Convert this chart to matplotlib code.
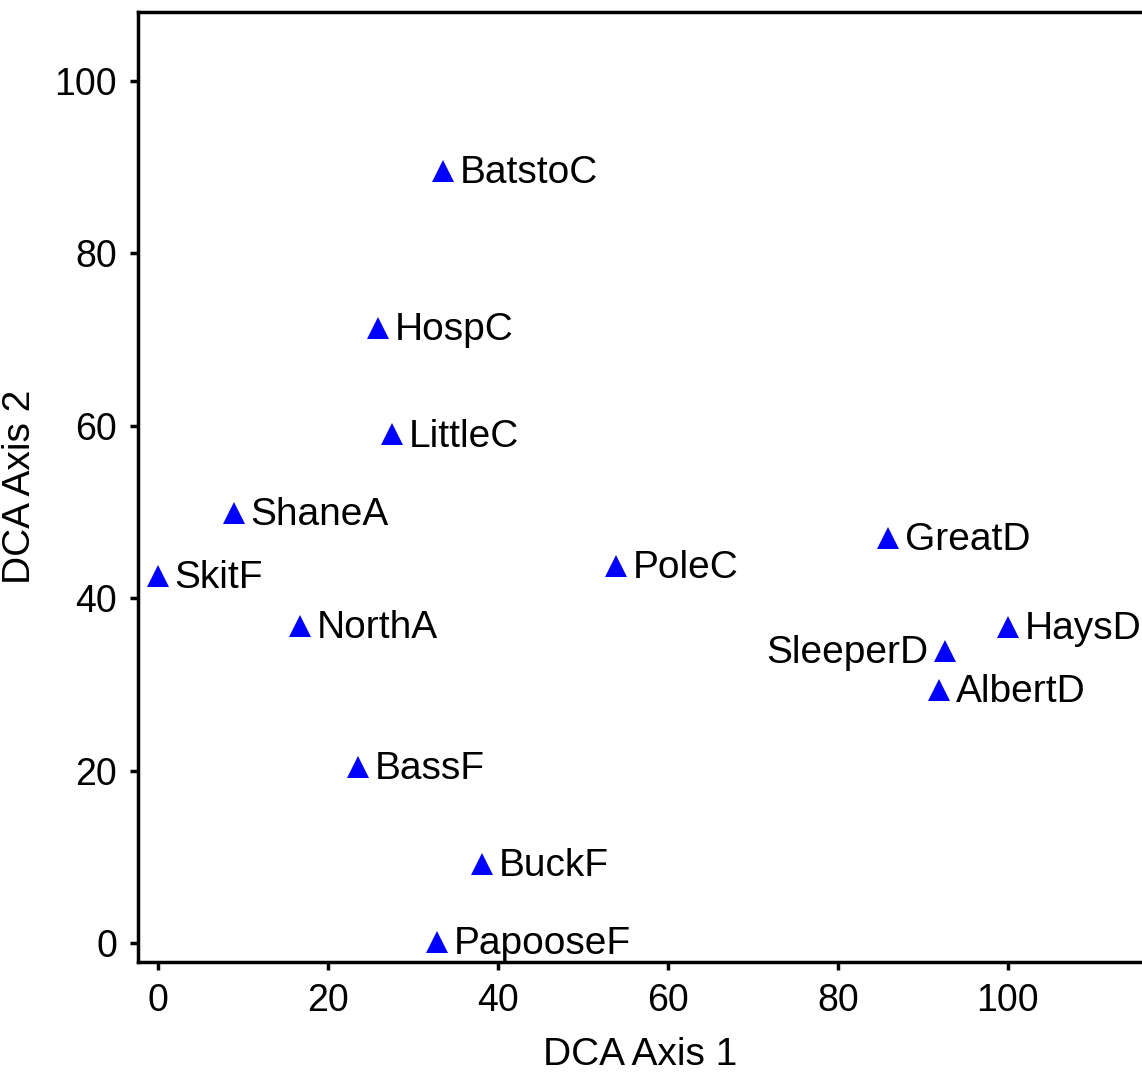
import matplotlib.pyplot as plt

plt.rcParams['font.family'] = ['Liberation Sans', 'DejaVu Sans']

sites = ['BatstoC', 'HospC', 'LittleC', 'ShaneA', 'SkitF', 'NorthA', 'PoleC',
         'GreatD', 'HaysD', 'SleeperD', 'AlbertD', 'BassF', 'BuckF', 'PapooseF']
axis1 = [33.5, 25.9, 27.5, 8.9, 0.0, 16.7, 53.9, 85.9, 100.0, 92.6, 91.9, 23.6, 38.1, 32.8]
axis2 = [89.6, 71.3, 59.0, 49.9, 42.6, 36.8, 43.7, 47.0, 36.7, 33.9, 29.4, 20.4, 9.2, 0.1]
left_labels = ['SleeperD']

fig = plt.figure(figsize=(11.42, 10.76), dpi=100)
ax = fig.add_axes([0.1208, 0.106, 0.8792, 0.8828])

ax.plot(axis1, axis2, '^', color='#0000ff', markersize=16, markeredgewidth=0, clip_on=False)

for name, x, y in zip(sites, axis1, axis2):
    if name in left_labels:
        ax.annotate(name, (x, y), xytext=(-12, -1.5), textcoords='offset points',
                    ha='right', va='center', fontsize=28)
    else:
        ax.annotate(name, (x, y), xytext=(12, -1.5), textcoords='offset points',
                    ha='left', va='center', fontsize=28)

ax.set_xlim(-2.35, 115.8)
ax.set_ylim(-2.2, 108)
ax.set_xticks([0, 20, 40, 60, 80, 100])
ax.set_yticks([0, 20, 40, 60, 80, 100])
ax.tick_params(labelsize=27, width=2.5, length=6, direction='out', pad=9)
for s in ['left', 'bottom', 'top']:
    ax.spines[s].set_linewidth(2.5)
ax.spines['right'].set_visible(False)

ax.set_xlabel('DCA Axis 1', fontsize=28, labelpad=13)
ax.set_ylabel('DCA Axis 2', fontsize=28, labelpad=12)

fig.savefig('out.png', dpi=100)
